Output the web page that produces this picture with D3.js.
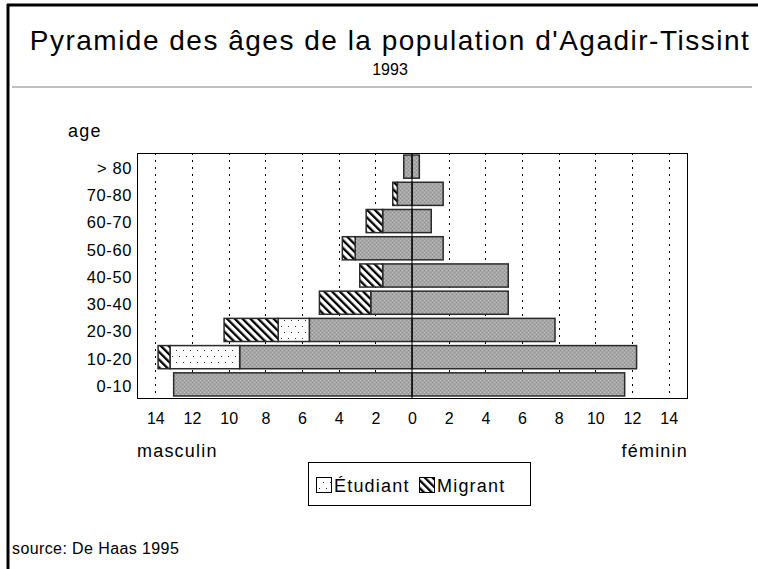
<!DOCTYPE html>
<html>
<head>
<meta charset="utf-8">
<script src="https://cdn.jsdelivr.net/npm/d3@7"></script>
<style>
  body { margin: 0; background: #fff; }
  text { font-family: "Liberation Sans", Arial, sans-serif; fill: #000; }
</style>
</head>
<body>
<div id="chart"></div>
<script>
// age groups, top to bottom
var ageGroups = ["> 80", "70-80", "60-70", "50-60", "40-50", "30-40", "20-30", "10-20", "0-10"];
// percent of population
var maleResident = [0.45, 0.8, 1.6, 3.1, 1.6, 2.25, 5.6, 9.4, 13.0];
var maleStudent  = [0, 0, 0, 0, 0, 0, 1.7, 3.8, 0];
var maleMigrant  = [0, 0.25, 0.9, 0.7, 1.25, 2.8, 2.95, 0.65, 0];
var female       = [0.4, 1.7, 1.05, 1.7, 5.25, 5.25, 7.8, 12.25, 11.6];
var tickValues = [-14, -12, -10, -8, -6, -4, -2, 0, 2, 4, 6, 8, 10, 12, 14];

var W = 758, H = 569;
var plot = {left: 137, right: 687, top: 153, bottom: 398};

var svg = d3.select("#chart").append("svg")
	.attr("width", W)
	.attr("height", H);

// patterns
var defs = svg.append("defs");
var pg = defs.append("pattern").attr("id", "gray")
	.attr("patternUnits", "userSpaceOnUse").attr("width", 4).attr("height", 4);
pg.append("rect").attr("width", 4).attr("height", 4).attr("fill", "#a6a6a6");
pg.append("rect").attr("x", 0).attr("y", 0).attr("width", 1).attr("height", 1).attr("fill", "#bdbdbd");
pg.append("rect").attr("x", 2).attr("y", 2).attr("width", 1).attr("height", 1).attr("fill", "#bdbdbd");
pg.append("rect").attr("x", 2).attr("y", 0).attr("width", 1).attr("height", 1).attr("fill", "#909090");
pg.append("rect").attr("x", 0).attr("y", 2).attr("width", 1).attr("height", 1).attr("fill", "#909090");

var ps = defs.append("pattern").attr("id", "student")
	.attr("patternUnits", "userSpaceOnUse").attr("width", 7).attr("height", 12);
ps.append("rect").attr("width", 7).attr("height", 12).attr("fill", "#fff");
ps.append("rect").attr("x", 1).attr("y", 2).attr("width", 1).attr("height", 1).attr("fill", "#333");
ps.append("rect").attr("x", 4).attr("y", 8).attr("width", 1).attr("height", 1).attr("fill", "#333");

var pm = defs.append("pattern").attr("id", "migrant")
	.attr("patternUnits", "userSpaceOnUse").attr("width", 5.5).attr("height", 10)
	.attr("patternTransform", "rotate(-45)");
pm.append("rect").attr("width", 5.5).attr("height", 10).attr("fill", "#fff");
pm.append("rect").attr("width", 2.3).attr("height", 10).attr("fill", "#000");

// frame of whole figure
svg.append("line").attr("x1", 7).attr("x2", W).attr("y1", 5).attr("y2", 5)
	.attr("stroke", "#000").attr("stroke-width", 3);
svg.append("line").attr("x1", 8).attr("x2", 8).attr("y1", 4).attr("y2", H)
	.attr("stroke", "#000").attr("stroke-width", 3);

// title
svg.append("text").attr("x", 390).attr("y", 50).attr("text-anchor", "middle")
	.style("font-size", "28px").style("letter-spacing", "1.5px")
	.text("Pyramide des âges de la population d'Agadir-Tissint");
svg.append("text").attr("x", 390).attr("y", 75).attr("text-anchor", "middle")
	.style("font-size", "16px").text("1993");
svg.append("line").attr("x1", 12).attr("x2", 752).attr("y1", 87).attr("y2", 87)
	.attr("stroke", "#aaa").attr("stroke-width", 1.5);

// scales
var x = d3.scaleLinear().domain([-15, 15]).range([plot.left, plot.right]);
var y = d3.scaleBand().domain(ageGroups).range([plot.top, plot.bottom])
	.paddingInner(0.15).paddingOuter(0.075);

// grid
svg.append("g").selectAll("line")
	.data(tickValues.filter(function(d){ return d !== 0; }))
	.enter().append("line")
	.attr("x1", function(d){ return Math.round(x(d)) + 0.5; })
	.attr("x2", function(d){ return Math.round(x(d)) + 0.5; })
	.attr("y1", plot.top).attr("y2", plot.bottom)
	.attr("stroke", "#000").attr("stroke-dasharray", "2,5");

// stacked rows
var rows = ageGroups.map(function(a, i){
	var r = maleResident[i], s = maleStudent[i], m = maleMigrant[i];
	return [
		{age: a, x0: 0, x1: female[i], fill: "url(#gray)"},
		{age: a, x0: -r, x1: 0, fill: "url(#gray)"},
		{age: a, x0: -r - s, x1: -r, fill: "url(#student)"},
		{age: a, x0: -r - s - m, x1: -r - s, fill: "url(#migrant)"}
	];
});
var segs = [].concat.apply([], rows).filter(function(d){ return d.x1 - d.x0 > 0; });

svg.append("g").selectAll("rect")
	.data(segs)
	.enter().append("rect")
	.attr("x", function(d){ return x(d.x0); })
	.attr("width", function(d){ return x(d.x1) - x(d.x0); })
	.attr("y", function(d){ return y(d.age); })
	.attr("height", y.bandwidth())
	.attr("fill", function(d){ return d.fill; })
	.attr("stroke", "#2b2b2b").attr("stroke-width", 1.5);

// zero line
svg.append("line").attr("x1", x(0)).attr("x2", x(0))
	.attr("y1", plot.top).attr("y2", plot.bottom)
	.attr("stroke", "#000").attr("stroke-width", 1);

// plot frame
svg.append("rect").attr("x", plot.left + 0.5).attr("y", plot.top + 0.5)
	.attr("width", plot.right - plot.left).attr("height", plot.bottom - plot.top)
	.attr("fill", "none").attr("stroke", "#000");

// y axis labels
var yAxis = d3.axisLeft(y).tickSize(0).tickPadding(5);
var gY = svg.append("g").attr("transform", "translate(" + plot.left + ",0)").call(yAxis)
	.attr("font-size", 16).attr("font-family", "Liberation Sans, Arial, sans-serif");
gY.select(".domain").remove();
gY.selectAll("text").attr("dy", "0.45em")
	.style("font-size", "16.5px").style("letter-spacing", "0.6px");

// x axis labels
var xAxis = d3.axisBottom(x).tickValues(tickValues).tickSize(0).tickPadding(15)
	.tickFormat(function(d){ return Math.abs(d); });
var gX = svg.append("g").attr("transform", "translate(0," + plot.bottom + ")").call(xAxis)
	.attr("font-size", 16).attr("font-family", "Liberation Sans, Arial, sans-serif");
gX.select(".domain").remove();
gX.selectAll("text").style("font-size", "16px");

svg.append("text").attr("x", 68).attr("y", 137)
	.style("font-size", "18px").style("letter-spacing", "1.2px").text("age");
svg.append("text").attr("x", plot.left).attr("y", 457)
	.style("font-size", "18px").style("letter-spacing", "1.2px").text("masculin");
svg.append("text").attr("x", plot.right + 1).attr("y", 457).attr("text-anchor", "end")
	.style("font-size", "18px").style("letter-spacing", "1.2px").text("féminin");

// legend
var legend = svg.append("g");
legend.append("rect").attr("x", 308.5).attr("y", 462.5).attr("width", 222).attr("height", 43)
	.attr("fill", "#fff").attr("stroke", "#000");
var legendItems = [{label: "Étudiant", fill: "url(#student)", x: 316}, {label: "Migrant", fill: "url(#migrant)", x: 419}];
legend.selectAll("g.item").data(legendItems).enter().append("g").attr("class", "item")
	.each(function(d){
		var g = d3.select(this);
		g.append("rect").attr("x", d.x + 0.5).attr("y", 477.5).attr("width", 15).attr("height", 15)
			.attr("fill", d.fill).attr("stroke", "#000");
		g.append("text").attr("x", d.x + 18).attr("y", 492)
			.style("font-size", "18px").style("letter-spacing", "1.2px").text(d.label);
	});

svg.append("text").attr("x", 12).attr("y", 554)
	.style("font-size", "16px").style("letter-spacing", "0.4px").text("source: De Haas 1995");
</script>
</body>
</html>
